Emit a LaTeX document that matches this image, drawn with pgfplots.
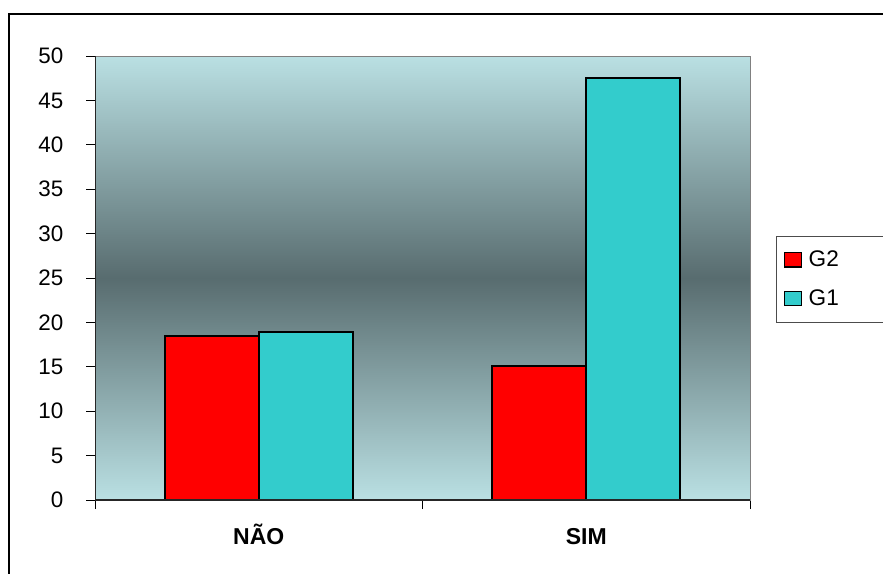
\documentclass[border=0pt]{standalone}
\usepackage{pgfplots}
\pgfplotsset{compat=1.18}
\usepackage{fontspec}
\setmainfont{Liberation Sans}

\definecolor{barred}{RGB}{255,0,0}
\definecolor{barcyan}{RGB}{51,204,204}
\definecolor{bglight}{RGB}{186,224,227}
\definecolor{bgdark}{RGB}{88,108,111}

% small filled squares as legend keys
\pgfplotsset{sqlegend/.style={legend image code/.code={%
  \draw[##1,line width=0.6pt] (1pt,-3.6pt) rectangle (9.5pt,3.6pt);}}}

\begin{document}
\begin{tikzpicture}
\useasboundingbox (-47.5pt,-36.5pt) rectangle (394pt,250pt);
\begin{axis}[
  at={(0,0)}, anchor=south west,
  scale only axis, width=327.5pt, height=222pt,
  ymin=0, ymax=50, ytick={0,5,...,50},
  xmin=-0.5, xmax=1.5,
  xtick={-0.5,0.5,1.5}, xticklabels={},
  extra x ticks={0,1},
  extra x tick labels={\textbf{NÃO},\textbf{SIM}},
  extra x tick style={grid=none, major tick length=0pt,
    xticklabel style={text height=11pt, text depth=0pt, yshift=-7.8pt,
      font=\fontsize{11.5}{13}\selectfont}},
  ybar=0pt, bar width=47pt,
  axis background/.style={top color=bglight, bottom color=bglight, middle color=bgdark},
  axis line style={draw=gray},
  tick style={black, line width=0.5pt},
  major tick length=4.5pt, tick align=outside,
  xtick pos=bottom, ytick pos=left,
  yticklabel style={xshift=-7.8pt},
  tick label style={font=\fontsize{11.2}{13}\selectfont},
  /pgf/number format/assume math mode=true,
  legend cell align=left,
  legend style={at={(1.0397,0.5946)}, anchor=north west,
    draw=black!70, line width=0.5pt, font=\fontsize{11.3}{13}\selectfont,
    row sep=6pt, inner ysep=5pt, inner xsep=3.5pt,
    /tikz/every odd column/.append style={column sep=1.5pt}},
]
\addplot[fill=barred, draw=black, line width=0.8pt, sqlegend]
  coordinates {(0,18.5) (1,15.1)};
\addlegendentry{G2\hspace*{40pt}}
\addplot[fill=barcyan, draw=black, line width=0.8pt, sqlegend]
  coordinates {(0,18.9) (1,47.5)};
\addlegendentry{G1\hspace*{40pt}}
\draw[black!85, line width=0.6pt] (rel axis cs:0,1) -- (rel axis cs:0,0) -- (rel axis cs:1,0);
\end{axis}
% outer chart frame
\draw[black, line width=1pt] (-43pt,-40pt) -- (-43pt,243pt) -- (400pt,243pt);
\end{tikzpicture}
\end{document}
